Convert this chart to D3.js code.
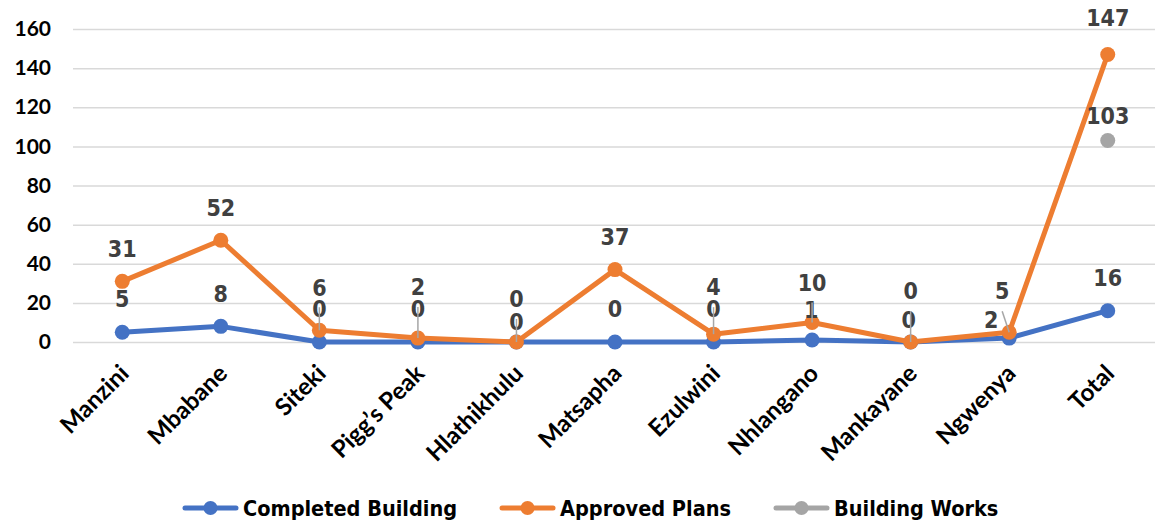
<!DOCTYPE html>
<html>
<head>
<meta charset="utf-8">
<script src="https://cdn.jsdelivr.net/npm/d3@7"></script>
<style>
  body { margin: 0; background: #ffffff; }
  svg { display: block; }
</style>
</head>
<body>
<svg id="chart" width="1155" height="521"></svg>
<script>
// ---- data ----
const categories = ["Manzini", "Mbabane", "Siteki", "Pigg\u2019s Peak", "Hlathikhulu", "Matsapha",
                    "Ezulwini", "Nhlangano", "Mankayane", "Ngwenya", "Total"];
const completedBuilding = [5, 8, 0, 0, 0, 0, 0, 1, 0, 2, 16];
const approvedPlans     = [31, 52, 6, 2, 0, 37, 4, 10, 0, 5, 147];
const buildingWorks     = [null, null, null, null, null, null, null, null, null, null, 103];
const yTicks = [0, 20, 40, 60, 80, 100, 120, 140, 160];
const seriesNames  = ["Completed Building", "Approved Plans", "Building Works"];
const seriesColors = ["#4472C4", "#ED7D31", "#A5A5A5"];

// ---- label placement tweaks (px, relative to the default spot above each marker) ----
const labelNudge = {
  "Completed Building": {
    "Hlathikhulu": [0, 13], "Nhlangano": [-1, 3], "Mankayane": [-2, 11], "Ngwenya": [-18, 15]
  },
  "Approved Plans": {
    "Siteki": [0, -10], "Pigg\u2019s Peak": [0, -18], "Hlathikhulu": [0, -10], "Ezulwini": [0, -14],
    "Nhlangano": [0, -7], "Mankayane": [0, -18], "Ngwenya": [-7, -8], "Total": [0, -4]
  },
  "Building Works": { "Total": [0, 8] }
};
// labels that were pulled away from their marker get a leader line
const leaderCategories = ["Siteki", "Pigg\u2019s Peak", "Hlathikhulu", "Ezulwini", "Nhlangano", "Mankayane", "Ngwenya"];

// ---- layout ----
const svg = d3.select("#chart");
const W = 1155, H = 521;
const plot = { left: 73, right: 1157, top: 29, bottom: 342 };

const x = d3.scalePoint().domain(categories).range([plot.left, plot.right]).padding(0.5);
const y = d3.scaleLinear().domain([0, 160]).range([plot.bottom, plot.top]);

// gridlines
svg.append("g")
  .attr("transform", `translate(${plot.left},0)`)
  .call(d3.axisLeft(y).tickValues(yTicks).tickSize(-(W - plot.left)).tickFormat(""))
  .call(g => g.select(".domain").remove())
  .call(g => g.selectAll("line").attr("stroke", "#d9d9d9").attr("stroke-width", 1.5));

// y tick labels
svg.append("g")
  .attr("transform", `translate(51,0)`)
  .call(d3.axisLeft(y).tickValues(yTicks).tickSize(0).tickPadding(0))
  .call(g => g.select(".domain").remove())
  .call(g => g.selectAll("text")
    .attr("font-family", "Lato, 'Open Sans', sans-serif")
    .attr("font-weight", "bold")
    .attr("font-size", 21)
    .attr("fill", "#000"));

// category axis (ticks hidden) with rotated labels
svg.append("g")
  .attr("transform", `translate(0,${plot.bottom})`)
  .call(d3.axisBottom(x).tickSize(0).tickFormat(""))
  .call(g => g.select(".domain").remove());

svg.append("g").selectAll("text")
  .data(categories)
  .join("text")
  .attr("transform", d => `translate(${x(d) + 8},${375}) rotate(-45)`)
  .attr("text-anchor", "end")
  .attr("font-family", "Lato, 'Open Sans', sans-serif")
  .attr("font-weight", "bold")
  .attr("font-size", 24)
  .attr("fill", "#000")
  .text(d => d);

// series
const series = [completedBuilding, approvedPlans, buildingWorks].map((vals, i) => ({
  name: seriesNames[i],
  color: seriesColors[i],
  points: categories.map((c, j) => ({ cat: c, value: vals[j] }))
}));

const line = d3.line()
  .defined(d => d.value != null)
  .x(d => x(d.cat))
  .y(d => y(d.value));

series.forEach(s => {
  const g = svg.append("g");
  g.append("path")
    .datum(s.points)
    .attr("fill", "none")
    .attr("stroke", s.color)
    .attr("stroke-width", 5)
    .attr("stroke-linejoin", "round")
    .attr("stroke-linecap", "round")
    .attr("d", line);
  g.selectAll("circle")
    .data(s.points.filter(d => d.value != null))
    .join("circle")
    .attr("cx", d => x(d.cat))
    .attr("cy", d => y(d.value))
    .attr("r", 7.5)
    .attr("fill", s.color);
});

// data labels
function labelPos(s, d) {
  const n = (labelNudge[s.name] || {})[d.cat] || [0, 0];
  return [x(d.cat) + n[0], y(d.value) - 33 + n[1]];
}

series.forEach(s => {
  svg.append("g").selectAll("text")
    .data(s.points.filter(d => d.value != null))
    .join("text")
    .attr("x", d => labelPos(s, d)[0])
    .attr("y", d => labelPos(s, d)[1])
    .attr("dy", "0.36em")
    .attr("text-anchor", "middle")
    .attr("font-family", "'DejaVu Sans Condensed', 'DejaVu Sans', sans-serif")
    .attr("font-weight", "bold")
    .attr("font-size", 23)
    .attr("fill", "#404040")
    .text(d => d.value);
});

// leader lines from the lifted Approved Plans labels down to their markers
const approved = series[1];
svg.append("g").selectAll("line")
  .data(approved.points.filter(d => leaderCategories.includes(d.cat)))
  .join("line")
  .attr("x1", d => labelPos(approved, d)[0])
  .attr("y1", d => Math.min(labelPos(approved, d)[1] + 20, y(d.value) - 4))
  .attr("x2", d => x(d.cat))
  .attr("y2", d => y(d.value))
  .attr("stroke", "#a6a6a6")
  .attr("stroke-width", 1.5);

// legend
const legend = svg.append("g");
const legendY = 508;
let lx = 183;
series.forEach(s => {
  const item = legend.append("g").attr("transform", `translate(${lx},${legendY})`);
  item.append("line")
    .attr("x1", 2).attr("x2", 53)
    .attr("stroke", s.color).attr("stroke-width", 5).attr("stroke-linecap", "round");
  item.append("circle").attr("cx", 27.5).attr("r", 7).attr("fill", s.color);
  const t = item.append("text")
    .attr("x", 60)
    .attr("dy", "0.36em")
    .attr("font-family", "'DejaVu Sans Condensed', 'DejaVu Sans', sans-serif")
    .attr("font-weight", "bold")
    .attr("font-size", 21.5)
    .attr("fill", "#000")
    .text(s.name);
  lx += 60 + t.node().getComputedTextLength() + 43;
});
</script>
</body>
</html>
